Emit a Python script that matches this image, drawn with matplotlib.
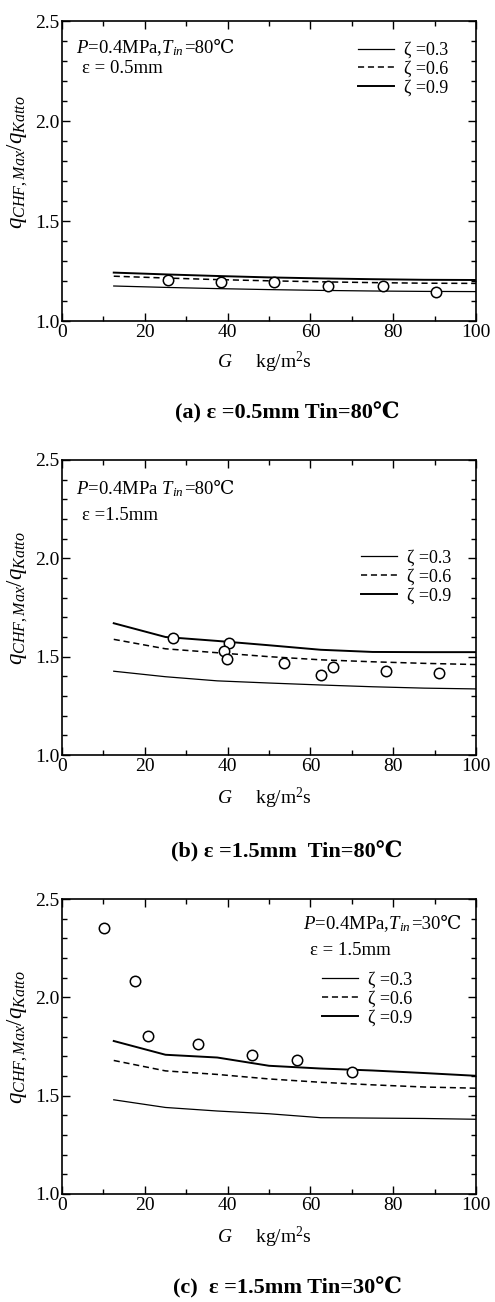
import matplotlib
matplotlib.use("Agg")
import matplotlib.pyplot as plt
from matplotlib.ticker import MultipleLocator

plt.rcParams['font.family'] = ['Liberation Serif', 'STIXGeneral', 'DejaVu Serif']
plt.rcParams['mathtext.fontset'] = 'custom'
plt.rcParams['mathtext.rm'] = 'Liberation Serif'
plt.rcParams['mathtext.it'] = 'Liberation Serif:italic'
plt.rcParams['mathtext.bf'] = 'Liberation Serif:bold'

# model curves, x positions shared by all panels
line_x = [12.5, 25, 37.5, 50, 62.5, 75, 87.5, 100]

# (a) eps = 0.5 mm, Tin = 80 C
a_z03 = [1.175, 1.168, 1.162, 1.157, 1.153, 1.150, 1.148, 1.147]
a_z06 = [1.224, 1.215, 1.207, 1.201, 1.196, 1.192, 1.189, 1.188]
a_z09 = [1.242, 1.233, 1.225, 1.218, 1.213, 1.209, 1.206, 1.205]
a_exp_G = [25.5, 38.3, 51.2, 64.3, 77.5, 90.4]
a_exp_q = [1.205, 1.196, 1.196, 1.176, 1.176, 1.146]

# (b) eps = 1.5 mm, Tin = 80 C
b_z03 = [1.426, 1.398, 1.377, 1.366, 1.356, 1.347, 1.340, 1.336]
b_z06 = [1.588, 1.540, 1.520, 1.500, 1.484, 1.474, 1.466, 1.460]
b_z09 = [1.670, 1.600, 1.580, 1.558, 1.535, 1.524, 1.523, 1.523]
b_exp_G = [26.7, 40.4, 39.2, 39.9, 53.7, 62.5, 65.5, 78.2, 91.1]
b_exp_q = [1.596, 1.571, 1.528, 1.489, 1.467, 1.405, 1.448, 1.429, 1.417]

# (c) eps = 1.5 mm, Tin = 30 C
c_z03 = [1.479, 1.440, 1.422, 1.408, 1.388, 1.386, 1.384, 1.380]
c_z06 = [1.679, 1.626, 1.608, 1.585, 1.568, 1.555, 1.544, 1.538]
c_z09 = [1.778, 1.708, 1.694, 1.652, 1.638, 1.628, 1.615, 1.601]
c_exp_G = [10.1, 17.6, 20.7, 32.9, 45.8, 56.8, 70.0]
c_exp_q = [2.353, 2.081, 1.801, 1.761, 1.708, 1.679, 1.620]

zeta_labels = ['ζ =0.3', 'ζ =0.6', 'ζ =0.9']
x_ticks = [0, 20, 40, 60, 80, 100]
y_ticks = [1.0, 1.5, 2.0, 2.5]

panels = [
    dict(rect=[62/495, 1-321/1302, 414/495, 300/1302],
         z=[a_z03, a_z06, a_z09], G=a_exp_G, q=a_exp_q,
         note1=(r'$P$=0.4MPa,$T_{in}$', '=80℃'), note2='ε = 0.5mm',
         n1=(0.034, 0.893), n2=(0.048, 0.827), leg=(0.715, 0.839),
         caption='(a) ε =0.5mm Tin=80℃', cy=1-413/1302, xly=1-362/1302),
    dict(rect=[62/495, 1-755/1302, 414/495, 295/1302],
         z=[b_z03, b_z06, b_z09], G=b_exp_G, q=b_exp_q,
         note1=(r'$P$=0.4MPa $T_{in}$', '=80℃'), note2='ε =1.5mm',
         n1=(0.034, 0.885), n2=(0.048, 0.797), leg=(0.722, 0.603),
         caption='(b) ε =1.5mm  Tin=80℃', cy=1-852/1302, xly=1-798/1302),
    dict(rect=[62/495, 1-1194/1302, 414/495, 295/1302],
         z=[c_z03, c_z06, c_z09], G=c_exp_G, q=c_exp_q,
         note1=(r'$P$=0.4MPa,$T_{in}$', '=30℃'), note2='ε = 1.5mm',
         n1=(0.582, 0.898), n2=(0.599, 0.810), leg=(0.628, 0.661),
         caption='(c)  ε =1.5mm Tin=30℃', cy=1-1288/1302, xly=1-1237/1302),
]

styles = [dict(ls='-', lw=0.9), dict(ls=(0, (4, 2.5)), lw=1.1), dict(ls='-', lw=1.4)]

fig = plt.figure(figsize=(4.95, 13.02), dpi=100)

for p in panels:
    ax = fig.add_axes(p['rect'])
    for vals, lab, st in zip(p['z'], zeta_labels, styles):
        ax.plot(line_x, vals, color='black', label=lab, **st)
    ax.plot(p['G'], p['q'], 'o', ms=7.5, mfc='white', mec='black', mew=1.1, zorder=5)
    ax.set_xlim(0, 100)
    ax.set_ylim(1.0, 2.5)
    ax.set_xticks(x_ticks)
    ax.set_yticks(y_ticks)
    ax.xaxis.set_minor_locator(MultipleLocator(10))
    ax.yaxis.set_minor_locator(MultipleLocator(0.1))
    ax.tick_params(which='both', direction='in', top=True, right=True, labelsize=14, width=1)
    ax.tick_params(which='major', length=6, pad=2)
    ax.tick_params(which='minor', length=3.5)
    for s in ax.spines.values():
        s.set_linewidth(1.2)
    ax.set_ylabel(r'$q_{CHF,Max}/q_{Katto}$', fontsize=16.5)
    ax.yaxis.set_label_coords(-0.078, 0.53)

    # condition note: math part first, then the plain part with the degree sign
    t1 = ax.text(p['n1'][0], p['n1'][1], p['note1'][0], transform=ax.transAxes,
                 fontsize=13.5, va='baseline')
    fig.canvas.draw()
    bb = t1.get_window_extent()
    base_y = ax.transAxes.transform(p['n1'])[1]
    ax.annotate(p['note1'][1], xy=(bb.x1, base_y), xycoords='figure pixels',
                fontsize=13.5, va='baseline', ha='left')
    ax.text(p['n2'][0], p['n2'][1], p['note2'], transform=ax.transAxes, fontsize=13.5,
            va='baseline')

    ax.legend(loc='center left', bbox_to_anchor=p['leg'], frameon=False, fontsize=13,
              handlelength=2.0, handletextpad=0.55, labelspacing=0.1, borderpad=0,
              borderaxespad=0)
    fig.text(0.535, p['xly'], r'$G$     kg/m$^2$s', fontsize=14, ha='center', va='center')
    fig.text(0.58, p['cy'], p['caption'], fontsize=16, fontweight='bold',
             ha='center', va='center')

fig.savefig('out.png', dpi=100)
